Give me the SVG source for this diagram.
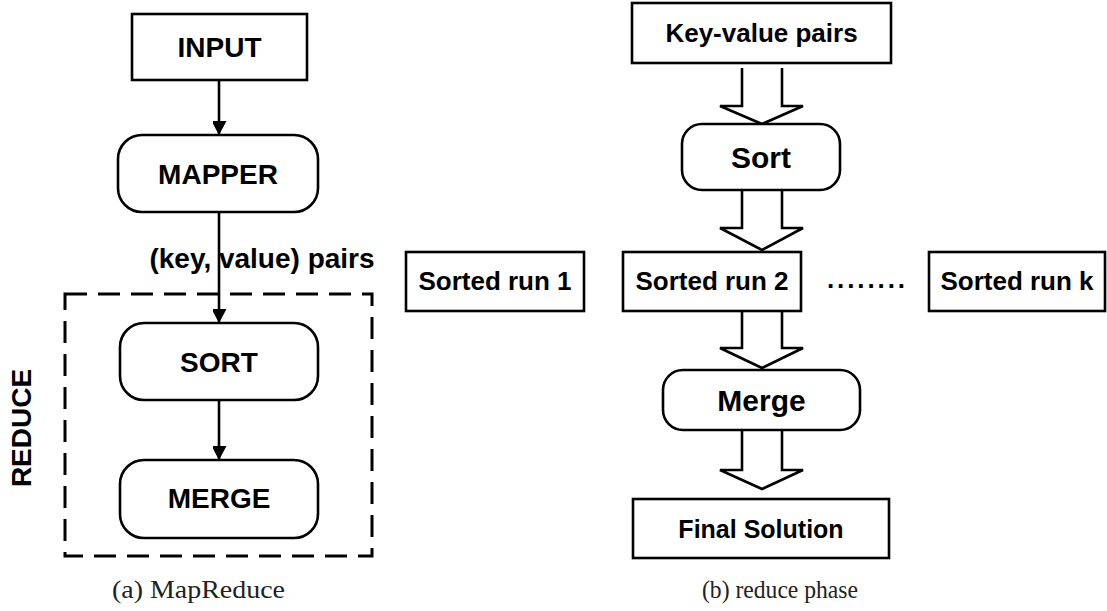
<svg xmlns="http://www.w3.org/2000/svg" width="1107" height="611" viewBox="0 0 1107 611">
<style>
.box{fill:#fff;stroke:#000;stroke-width:2.6}
.t{font-family:"Liberation Sans",Arial,sans-serif;font-weight:bold;fill:#000;text-anchor:middle}
.cap{font-family:"Liberation Serif","Times New Roman",serif;fill:#222;font-size:25px}
.ln{stroke:#000;stroke-width:2.6;fill:none}
.hollow{fill:#fff;stroke:#000;stroke-width:2.6;stroke-linejoin:miter}
</style>
<defs>
<marker id="ah" markerUnits="userSpaceOnUse" markerWidth="16" markerHeight="14" refX="14" refY="7.5" orient="auto">
<path d="M0,0 L14,7.5 L0,15 Z" fill="#000"/>
</marker>
</defs>
<rect x="65" y="294" width="307" height="262" fill="none" stroke="#000" stroke-width="3" stroke-dasharray="22,11"/>
<g id="connectors">
<line class="ln" x1="219" y1="80" x2="219" y2="135" marker-end="url(#ah)"/>
<line class="ln" x1="219" y1="212" x2="219" y2="323" marker-end="url(#ah)"/>
<line class="ln" x1="219" y1="400" x2="219" y2="460" marker-end="url(#ah)"/>
<path class="hollow" d="M742,68 V106 H720 L762,124 L803,106 H782 V68"/>
<path class="hollow" d="M742,190 V228 H720 L762,250 L803,228 H782 V190"/>
<path class="hollow" d="M742,311 V348 H720 L762,368 L803,348 H782 V311"/>
<path class="hollow" d="M742,430 V470 H720 L762,489 L803,470 H782 V430"/>
</g>
<text class="t" x="262" y="268" font-size="28">(key, value) pairs</text>
<g id="input"><rect class="box" x="132" y="14" width="175" height="66"/><text class="t" x="219.5" y="57" font-size="28">INPUT</text></g>
<g id="mapper"><rect class="box" x="118" y="135" width="200" height="77" rx="24"/><text class="t" x="218" y="184" font-size="28">MAPPER</text></g>
<g id="sort-left"><rect class="box" x="120" y="323" width="198" height="77" rx="24"/><text class="t" x="219" y="372" font-size="28">SORT</text></g>
<g id="merge-left"><rect class="box" x="120" y="460" width="198" height="78" rx="24"/><text class="t" x="219" y="508" font-size="28">MERGE</text></g>
<g id="reduce-label"><text class="t" font-size="28" transform="translate(31,428) rotate(-90)">REDUCE</text></g>
<g id="kv"><rect class="box" x="632" y="3" width="259" height="60"/><text class="t" x="761.5" y="42" font-size="26">Key-value pairs</text></g>
<g id="sort-right"><rect class="box" x="682" y="124" width="158" height="66" rx="20"/><text class="t" x="761" y="168" font-size="30">Sort</text></g>
<g id="run1"><rect class="box" x="406" y="252" width="178" height="59"/><text class="t" x="495" y="290" font-size="26">Sorted run 1</text></g>
<g id="run2"><rect class="box" x="623" y="252" width="178" height="59"/><text class="t" x="712" y="290" font-size="26">Sorted run 2</text></g>
<g id="dots"><text class="t" x="866" y="288" font-size="26" textLength="78" lengthAdjust="spacing">........</text></g>
<g id="runk"><rect class="box" x="929" y="252" width="176" height="59"/><text class="t" x="1017" y="290" font-size="26">Sorted run k</text></g>
<g id="merge-right"><rect class="box" x="663" y="370" width="197" height="60" rx="20"/><text class="t" x="761.5" y="411" font-size="30">Merge</text></g>
<g id="final"><rect class="box" x="633" y="499" width="256" height="59"/><text class="t" x="761" y="538" font-size="25">Final Solution</text></g>
<text class="cap" x="112" y="598" textLength="173" lengthAdjust="spacingAndGlyphs">(a) MapReduce</text>
<text class="cap" x="702" y="598" textLength="156" lengthAdjust="spacingAndGlyphs">(b) reduce phase</text>
</svg>
